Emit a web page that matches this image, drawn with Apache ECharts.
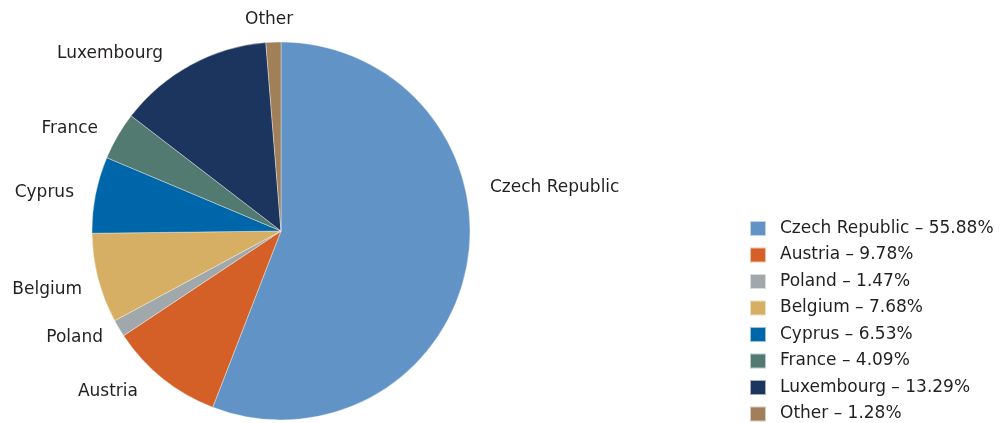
<!DOCTYPE html>
<html>
<head>
<meta charset="utf-8">
<script src="https://cdn.jsdelivr.net/npm/echarts@6/dist/echarts.min.js"></script>
<style>
  html, body { margin: 0; padding: 0; background: #fff; }
  #chart { width: 1008px; height: 423px; }
</style>
</head>
<body>
<div id="chart"></div>
<script>
// Country shares (%)
const countries = ['Czech Republic', 'Austria', 'Poland', 'Belgium', 'Cyprus', 'France', 'Luxembourg', 'Other'];
const shares = [55.88, 9.78, 1.47, 7.68, 6.53, 4.09, 13.29, 1.28];
const palette = ['#6193C7', '#D46027', '#A0A8AC', '#D6AE64', '#0066AA', '#527A70', '#1C355E', '#A17F58'];

// Where each slice label sits: [x, y, text alignment]
const labelSpots = [
  [490, 188, 'left'],
  [138, 392, 'right'],
  [103, 338, 'right'],
  [82, 290, 'right'],
  [74, 193, 'right'],
  [98, 129, 'right'],
  [163, 54, 'right'],
  [245, 20, 'left']
];

const chart = echarts.init(document.getElementById('chart'), null, { renderer: 'canvas' });

const seriesData = countries.map((name, i) => ({
  name: name,
  value: shares[i],
  itemStyle: { color: palette[i] }
}));

const textFont = '"DejaVu Sans", "Open Sans", sans-serif';

chart.setOption({
  animation: false,
  color: palette,
  legend: {
    orient: 'vertical',
    left: 749,
    top: 220,
    bottom: -40,
    padding: 0,
    itemWidth: 16,
    itemHeight: 15,
    itemGap: 9.5,
    icon: 'rect',
    textStyle: { fontFamily: textFont, fontSize: 17, color: '#231F20', padding: [0, 0, 0, 9] },
    formatter: function (name) {
      const i = countries.indexOf(name);
      return name + ' \u2013 ' + shares[i].toFixed(2) + '%';
    },
    data: countries
  },
  series: [{
    type: 'pie',
    center: [281, 231],
    radius: 189,
    startAngle: 90,
    clockwise: true,
    avoidLabelOverlap: false,
    data: seriesData,
    itemStyle: { borderColor: 'rgba(255,255,255,0.6)', borderWidth: 0.6 },
    label: {
      show: true,
      position: 'outside',
      formatter: '{b}',
      fontFamily: textFont,
      fontSize: 17,
      color: '#231F20'
    },
    labelLine: { show: false },
    labelLayout: function (params) {
      const s = labelSpots[params.dataIndex];
      return { x: s[0], y: s[1], align: s[2], verticalAlign: 'middle' };
    },
    emphasis: { disabled: true }
  }]
});
</script>
</body>
</html>
